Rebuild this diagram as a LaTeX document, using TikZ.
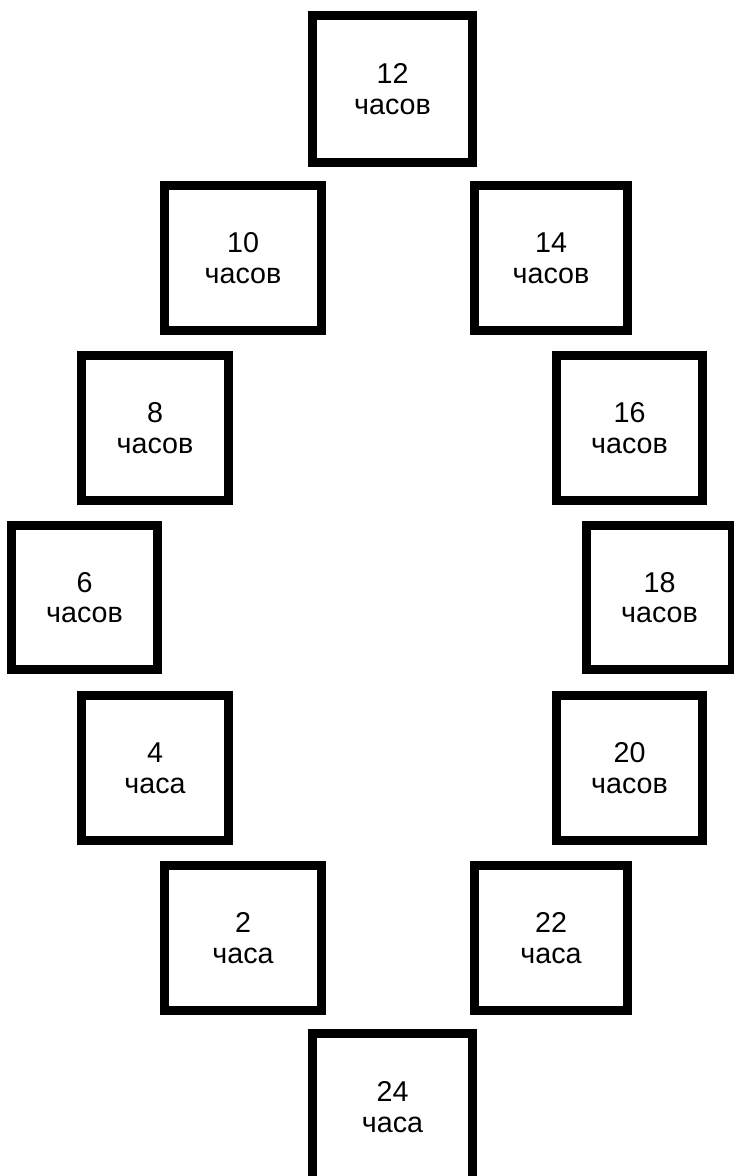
\documentclass[tikz,border=0pt]{standalone}
\usepackage{fontspec}
\setmainfont{Liberation Sans}
\begin{document}
\begin{tikzpicture}[x=0.75pt,y=-0.75pt,
  hourbox/.style 2 args={draw=black, line width=7.1pt, fill=white,
    minimum width={(#1-9.5)*0.75pt}, minimum height={(#2-9.5)*0.75pt},
    inner sep=0pt, align=center,
    font={\fontsize{21.5}{23}\selectfont}}]
\useasboundingbox (0,0) rectangle (734,1176);
\node[hourbox={169}{156}] (h12) at (392.5,89)   {12\\часов};
\node[hourbox={166}{154}] (h10) at (243,258)    {10\\часов};
\node[hourbox={162}{154}] (h14) at (551,258)    {14\\часов};
\node[hourbox={156}{154}] (h8)  at (155,428)    {8\\часов};
\node[hourbox={155}{154}] (h16) at (629.5,428)  {16\\часов};
\node[hourbox={155}{153}] (h6)  at (84.5,597.5) {6\\часов};
\node[hourbox={155}{153}] (h18) at (659.5,597.5){18\\часов};
\node[hourbox={156}{154}] (h4)  at (155,768)    {4\\часа};
\node[hourbox={155}{154}] (h20) at (629.5,768)  {20\\часов};
\node[hourbox={166}{154}] (h2)  at (243,938)    {2\\часа};
\node[hourbox={162}{154}] (h22) at (551,938)    {22\\часа};
\node[hourbox={169}{156}] (h24) at (392.5,1107) {24\\часа};
\end{tikzpicture}
\end{document}
